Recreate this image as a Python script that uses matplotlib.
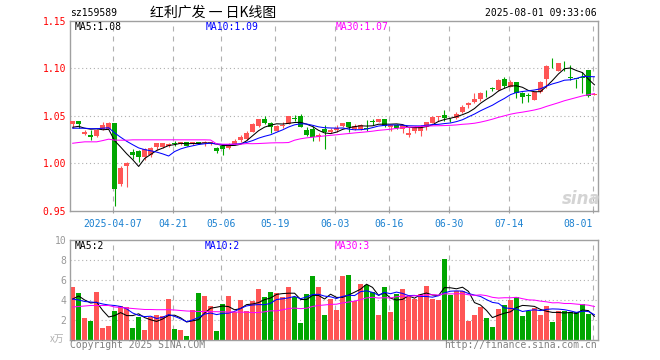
import numpy as np
import pandas as pd
import matplotlib
matplotlib.use('Agg')
import matplotlib.pyplot as plt

plt.rcParams['font.family'] = ['DejaVu Sans Mono', 'Noto Sans CJK SC']

# daily candles, 2025-03-26 .. 2025-08-01
opens = [1.041, 1.045, 1.031, 1.030, 1.029, 1.036, 1.036, 1.043, 0.978, 0.997,
         1.012, 1.013, 1.007, 1.009, 1.017, 1.017, 1.018, 1.021, 1.020, 1.022,
         1.020, 1.022, 1.021, 1.021, 1.0165, 1.018, 1.016, 1.020, 1.0245, 1.026,
         1.0335, 1.039, 1.047, 1.043, 1.034, 1.039, 1.0415, 1.048, 1.050, 1.035,
         1.036, 1.028, 1.036, 1.0335, 1.0355, 1.039, 1.044, 1.0365, 1.036, 1.0368,
         1.0438, 1.0437, 1.047, 1.038, 1.0405, 1.0366, 1.030, 1.0346, 1.0346, 1.0388,
         1.043, 1.0493, 1.0507, 1.0468, 1.0475, 1.0545, 1.061, 1.0646, 1.0674, 1.0740,
         1.0785, 1.0772, 1.0887, 1.0807, 1.0856, 1.0737, 1.0712, 1.0667, 1.0755, 1.0884,
         1.1013, 1.0972, 1.1033, 1.0905, 1.0890, 1.0905, 1.0982, 1.0720]
highs = [1.045, 1.045, 1.035, 1.035, 1.036, 1.044, 1.044, 1.043, 0.997, 1.001,
         1.015, 1.014, 1.016, 1.017, 1.0212, 1.0215, 1.021, 1.024, 1.0227, 1.0227,
         1.0227, 1.0227, 1.024, 1.023, 1.017, 1.018, 1.021, 1.0255, 1.030, 1.034,
         1.043, 1.0465, 1.050, 1.044, 1.040, 1.044, 1.050, 1.0505, 1.052, 1.0388,
         1.039, 1.032, 1.040, 1.037, 1.040, 1.043, 1.044, 1.0416, 1.0416, 1.0454,
         1.0465, 1.047, 1.047, 1.0405, 1.041, 1.040, 1.038, 1.039, 1.040, 1.044,
         1.050, 1.0503, 1.0566, 1.048, 1.054, 1.061, 1.065, 1.0737, 1.0755, 1.077,
         1.080, 1.089, 1.091, 1.088, 1.0856, 1.0755, 1.0737, 1.0755, 1.087, 1.1035,
         1.1105, 1.1052, 1.108, 1.1035, 1.0892, 1.0965, 1.0982, 1.0735]
lows = [1.037, 1.037, 1.030, 1.025, 1.028, 1.035, 1.036, 0.955, 0.976, 0.975,
        1.005, 1.002, 1.004, 1.007, 1.0145, 1.016, 1.017, 1.0178, 1.0195, 1.018,
        1.019, 1.020, 1.018, 1.019, 1.011, 1.009, 1.015, 1.019, 1.023, 1.025,
        1.033, 1.038, 1.0416, 1.0325, 1.034, 1.037, 1.041, 1.045, 1.038, 1.029,
        1.024, 1.024, 1.0155, 1.0318, 1.0335, 1.038, 1.0335, 1.0353, 1.0356, 1.034,
        1.0405, 1.0435, 1.038, 1.0346, 1.036, 1.0325, 1.0275, 1.0325, 1.029, 1.035,
        1.0425, 1.0444, 1.0444, 1.044, 1.047, 1.053, 1.058, 1.0640, 1.066, 1.0695,
        1.076, 1.076, 1.079, 1.080, 1.0685, 1.0632, 1.065, 1.0667, 1.074, 1.079,
        1.100, 1.097, 1.0975, 1.0877, 1.079, 1.0737, 1.0695, 1.0718]
closes = [1.045, 1.041, 1.033, 1.028, 1.035, 1.040, 1.043, 0.973, 0.995, 1.000,
          1.009, 1.007, 1.015, 1.016, 1.0212, 1.0212, 1.0206, 1.0199, 1.0227, 1.0188,
          1.0227, 1.0206, 1.023, 1.022, 1.0135, 1.015, 1.020, 1.024, 1.028, 1.032,
          1.0416, 1.0465, 1.0426, 1.038, 1.0395, 1.0405, 1.050, 1.047, 1.0388, 1.030,
          1.028, 1.030, 1.0335, 1.0353, 1.0377, 1.0422, 1.0384, 1.0395, 1.040, 1.0362,
          1.0435, 1.0468, 1.0398, 1.040, 1.0377, 1.040, 1.0325, 1.038, 1.0395, 1.0437,
          1.0493, 1.0503, 1.0479, 1.0462, 1.052, 1.0597, 1.063, 1.0674, 1.0737, 1.0735,
          1.0782, 1.0877, 1.0817, 1.086, 1.0744, 1.0702, 1.0708, 1.0755, 1.086, 1.1024,
          1.1010, 1.1052, 1.1030, 1.0902, 1.0887, 1.0902, 1.0709, 1.0732]
volumes = [5.3, 4.7, 2.2, 1.9, 4.8, 1.2, 1.4, 2.9, 3.4, 3.3,
           1.2, 2.3, 1.0, 2.3, 2.5, 2.4, 4.1, 1.1, 1.0, 0.4,
           3.0, 4.7, 4.4, 3.4, 0.9, 3.6, 4.4, 2.8, 4.0, 2.9,
           3.9, 5.1, 4.3, 4.8, 4.7, 4.3, 5.3, 4.3, 1.7, 4.6,
           6.4, 5.3, 2.5, 4.1, 3.0, 6.4, 6.5, 3.9, 5.6, 5.5,
           4.8, 2.5, 5.3, 2.8, 4.6, 5.1, 4.3, 4.1, 4.6, 5.4,
           4.1, 4.0, 8.1, 4.5, 4.9, 4.9, 1.9, 2.5, 3.3, 2.2,
           1.3, 3.1, 3.5, 4.0, 4.3, 2.4, 2.9, 3.2, 2.5, 3.4,
           1.8, 2.9, 2.9, 2.8, 2.8, 3.6, 2.6, 0.05]

# moving average values at the left edge (history before the window)
ma5_head = [1.038, 1.039, 1.037, 1.036]
ma10_head = [1.037, 1.037, 1.037, 1.0365, 1.0365, 1.037, 1.0375, 1.032, 1.0275]
ma30_head = [1.0212, 1.022, 1.0227, 1.0227, 1.0227, 1.024, 1.0255, 1.0245, 1.0244, 1.0244,
             1.0248, 1.0248, 1.0248, 1.0248, 1.0248, 1.0248, 1.0248, 1.0248, 1.0248, 1.0248,
             1.0248, 1.0248, 1.0248, 1.0246, 1.0205, 1.0202, 1.0202, 1.0202, 1.0202]
vma5_head = [4.1, 4.4, 4.0, 3.7]
vma10_head = [4.1, 4.0, 3.85, 3.8, 3.75, 3.6, 3.5, 3.45, 3.35]
vma30_head = [3.3, 3.35, 3.4, 3.45, 3.45, 3.45, 3.45, 3.3, 3.25, 3.2,
              3.15, 3.1, 3.05, 3.05, 3.03, 3.03, 3.03, 3.0, 2.95, 2.9,
              2.88, 2.85, 2.85, 2.83, 2.83, 2.82, 2.8, 2.8, 2.78]

tick_idx = [7, 17, 25, 34, 44, 53, 63, 73, 87]
tick_labels = ['2025-04-07', '04-21', '05-06', '05-19', '06-03', '06-16', '06-30', '07-14', '08-01']

UP = '#ff5555'
DOWN = '#00a600'
FRAME = '#a0a0a0'
GRID = '#b0b0b0'


def moving(values, n, head):
    s = pd.Series(values, dtype=float).rolling(n).mean()
    s.iloc[:len(head)] = head
    return s.values


x = np.arange(len(closes))
up = [c >= o for o, c in zip(opens, closes)]
colors = [UP if u else DOWN for u in up]

W, H = 660, 360
fig = plt.figure(figsize=(6.6, 3.6), dpi=100)


def px_axes(x0, y0, x1, y1):
    return fig.add_axes([x0 / W, 1 - y1 / H, (x1 - x0) / W, (y1 - y0) / H])


def ftext(px, py, s, **kw):
    kw.setdefault('va', 'center')
    kw.setdefault('fontsize', 7)
    fig.text(px / W, 1 - py / H, s, **kw)


ax = px_axes(70.3, 20.7, 598, 211)
axv = px_axes(70.3, 240, 598, 340)

for a in (ax, axv):
    a.set_xlim(-0.4, len(closes) - 0.4)
    for sp in a.spines.values():
        sp.set_color(FRAME)
        sp.set_linewidth(1.0)
    for t in tick_idx:
        a.axvline(t - 0.3, color=GRID, lw=0.8, ls=(0, (4.5, 4.5)), zorder=0)

# price panel
ax.set_ylim(0.95, 1.15)
for g in (1.00, 1.05, 1.10):
    ax.axhline(g, color=GRID, lw=0.8, ls=(0, (1, 2.5)), zorder=0)

ax.vlines(x, lows, highs, colors=colors, lw=0.8, zorder=2)
bottoms = [min(o, c) for o, c in zip(opens, closes)]
heights = [max(abs(c - o), 0.0008) for o, c in zip(opens, closes)]
ax.bar(x, heights, bottom=bottoms, width=0.8, color=colors, linewidth=0, zorder=3)

ax.plot(x, moving(closes, 5, ma5_head), color='black', lw=0.75, zorder=4)
ax.plot(x, moving(closes, 10, ma10_head), color='#0000ff', lw=0.75, zorder=4)
ax.plot(x, moving(closes, 30, ma30_head), color='#ff00ff', lw=0.75, zorder=4)

ax.set_yticks([0.95, 1.00, 1.05, 1.10, 1.15])
ax.set_yticklabels(['%.2f' % v for v in [0.95, 1.00, 1.05, 1.10, 1.15]], color='#ff0000', fontsize=7)
ax.tick_params(axis='y', length=0, pad=3)
ax.set_xticks([t - 0.3 for t in tick_idx])
ax.set_xticklabels(tick_labels, color='#1a80d0', fontsize=7)
ax.tick_params(axis='x', direction='inout', length=3, color=FRAME, pad=4)
ax.get_xticklabels()[-1].set_ha('right')

# volume panel
axv.set_ylim(0, 10)
for g in (2, 4, 6, 8):
    axv.axhline(g, color=GRID, lw=0.8, ls=(0, (1, 2.5)), zorder=0)
axv.bar(x, volumes, width=0.8, color=colors, linewidth=0, zorder=2)
axv.plot(x, moving(volumes, 5, vma5_head), color='black', lw=0.75, zorder=4)
axv.plot(x, moving(volumes, 10, vma10_head), color='#0000ff', lw=0.75, zorder=4)
axv.plot(x, moving(volumes, 30, vma30_head), color='#ff00ff', lw=0.75, zorder=4)
axv.set_yticks([2, 4, 6, 8, 10])
axv.set_yticklabels(['2', '4', '6', '8', '10'], color='#999999', fontsize=7)
axv.tick_params(axis='y', length=0, pad=3)
axv.set_xticks([])

# header and labels
ftext(70, 12.7, 'sz159589', ha='left')
ftext(213, 12.7, '红利广发 一 日K线图', ha='center', fontsize=10,
      family=['Noto Sans CJK SC', 'DejaVu Sans'])
ftext(597, 12.7, '2025-08-01 09:33:06', ha='right')

ftext(75, 26.5, 'MA5:1.08', ha='left', color='black')
ftext(206, 26.5, 'MA10:1.09', ha='left', color='#0000ff')
ftext(336, 26.5, 'MA30:1.07', ha='left', color='#ff00ff')

ftext(75, 246, 'MA5:2', ha='left', color='black')
ftext(205, 246, 'MA10:2', ha='left', color='#0000ff')
ftext(335, 246, 'MA30:3', ha='left', color='#ff00ff')

ftext(64, 339, 'x万', ha='right', color='#b0b0b0', fontstyle='italic',
      family=['Noto Sans CJK SC', 'DejaVu Sans'])
ftext(70, 345.5, 'Copyright 2025 SINA.COM', ha='left', color='#808080')
ftext(597, 345.5, 'http://finance.sina.com.cn', ha='right', color='#808080')

ftext(581, 199, 'sina', ha='center', fontsize=12, color='#d4d4d4',
      fontstyle='italic', fontweight='bold', family='DejaVu Sans')

fig.savefig('out.png', dpi=100)
